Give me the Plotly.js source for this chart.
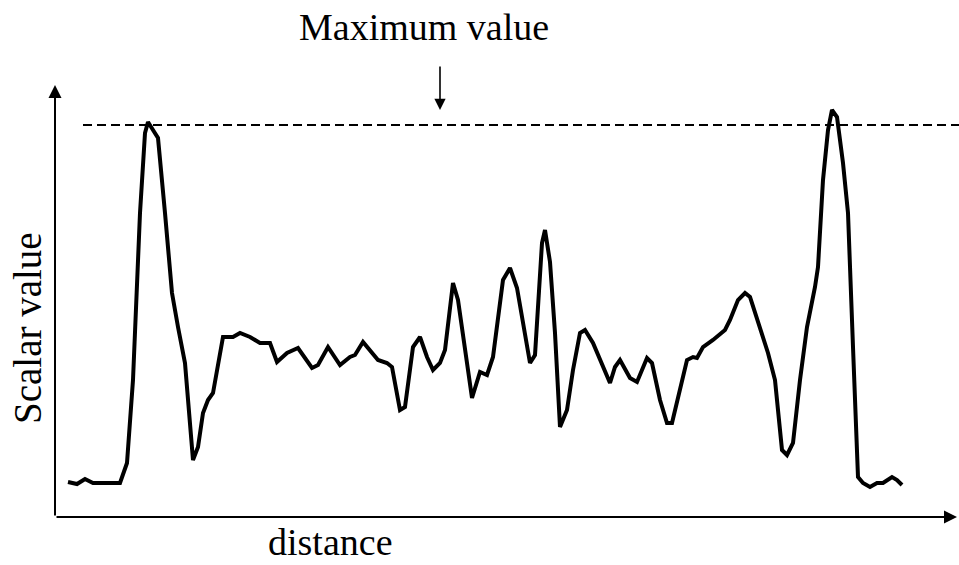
<!DOCTYPE html>
<html>
<head>
<meta charset="utf-8">
<script src="https://cdn.plot.ly/plotly-3.0.1.min.js"></script>
<style>html,body{margin:0;padding:0;background:#fff;}#chart{width:959px;height:565px;}</style>
</head>
<body>
<div id="chart"></div>
<script>
const distance = [13,22,30,38,65,72,78,85,90,93,98,103,110,117,123,130,138,143,148,153,158,163,168,178,185,195,205,215,222,232,243,257,263,273,285,295,300,308,323,332,337,345,350,358,365,372,378,385,390,398,403,417,425,432,438,448,455,462,475,480,487,490,495,500,505,512,518,525,530,538,548,555,560,565,575,582,592,597,605,612,617,625,632,638,642,648,658,670,675,683,690,695,702,713,720,727,732,738,745,752,760,763,768,773,777,782,788,793,798,803,808,815,822,828,837,842,847];
const scalarValue = [35,33,38,34,34,54,137,304,384,395,387,379,304,224,190,154,57,70,104,117,124,150,180,180,184,180,174,174,155,164,169,149,152,170,152,160,162,175,157,154,150,107,110,170,180,160,147,154,167,234,217,119,145,142,160,237,249,229,154,162,274,287,255,184,90,107,147,184,187,174,150,134,150,157,139,135,159,154,117,94,94,127,157,160,159,170,177,187,197,217,224,220,197,164,137,67,62,74,137,190,230,250,337,387,407,400,354,304,170,40,34,30,34,34,40,37,32];
const maxValue = [392];
const labels = {title: "Maximum value", x: "distance", y: "Scalar value"};
const FONT = "Liberation Serif, Times New Roman, serif";
const xMax = 904, yMax = 432;

const trace = {
  x: distance, y: scalarValue, type: "scatter", mode: "lines",
  line: {color: "#000", width: 4}, hoverinfo: "skip"
};

const layout = {
  width: 959, height: 565,
  margin: {l: 55, r: 0, t: 85, b: 48},
  paper_bgcolor: "#fff", plot_bgcolor: "#fff",
  showlegend: false,
  xaxis: {range: [0, xMax], showgrid: false, zeroline: false, showline: false, showticklabels: false, ticks: ""},
  yaxis: {range: [0, yMax], showgrid: false, zeroline: false, showline: false, showticklabels: false, ticks: ""},
  shapes: [
    {type: "line", xref: "x", yref: "y", x0: 28, x1: xMax, y0: maxValue[0], y1: maxValue[0],
     line: {color: "#000", width: 2, dash: "9px,5px"}}
  ],
  annotations: [
    {x: xMax - 2, y: 0, ax: 0, ay: 0, axref: "x", ayref: "y", xref: "x", yref: "y", text: "",
     showarrow: true, arrowhead: 2, arrowsize: 1.3, arrowwidth: 2, arrowcolor: "#000", standoff: 0, startstandoff: 0},
    {x: 0, y: yMax, ax: 0, ay: 0, axref: "x", ayref: "y", xref: "x", yref: "y", text: "",
     showarrow: true, arrowhead: 2, arrowsize: 1.3, arrowwidth: 2, arrowcolor: "#000", standoff: 0, startstandoff: 0},
    {x: 385, y: 407, ax: 385, ay: 452, axref: "x", ayref: "y", xref: "x", yref: "y", text: "",
     showarrow: true, arrowhead: 2, arrowsize: 1.4, arrowwidth: 1.6, arrowcolor: "#000", standoff: 0},
    {x: 0.408, y: 1.134, xref: "paper", yref: "paper", text: labels.title, showarrow: false,
     font: {family: FONT, size: 38, color: "#000"}, xanchor: "center", yanchor: "middle"},
    {x: 0.305, y: -0.058, xref: "paper", yref: "paper", text: labels.x, showarrow: false, borderpad: 0,
     font: {family: FONT, size: 38, color: "#000"}, xanchor: "center", yanchor: "middle"},
    {x: -0.031, y: 0.4375, xref: "paper", yref: "paper", text: labels.y, showarrow: false, textangle: -90,
     font: {family: FONT, size: 39, color: "#000"}, xanchor: "center", yanchor: "middle"}
  ]
};

Plotly.newPlot("chart", [trace], layout, {displayModeBar: false, staticPlot: true});
</script>
</body>
</html>
